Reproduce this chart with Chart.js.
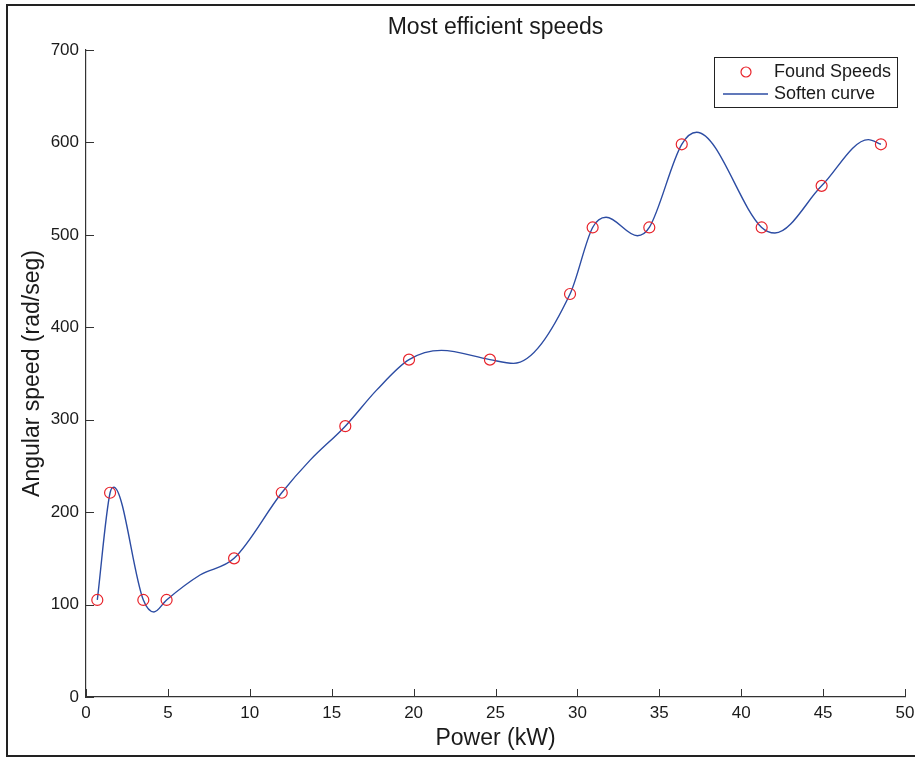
<!DOCTYPE html>
<html>
<head>
<meta charset="utf-8">
<title>Most efficient speeds</title>
<script src="https://cdn.jsdelivr.net/npm/chart.js@4.4.0/dist/chart.umd.min.js"></script>
<style>
    body { margin: 0; background: #fff; }
    canvas { display: block; }
</style>
</head>
<body>
<canvas id="grafico" width="915" height="758"></canvas>
<script>
// pontos encontrados (kW, rad/seg)
var potencias = [0.69, 1.47, 3.5, 4.92, 9.04, 11.95, 15.83, 19.72, 24.66, 29.55, 30.93, 34.39, 36.37, 41.25, 44.91, 48.53];
var velocidades = [105, 221, 105, 105, 150, 221, 293, 365, 365, 436, 508, 508, 598, 508, 553, 598];

// curva suavizada (pontos + picos/vales)
var curvaPotencias = [0.69, 1.47, 1.7, 3.5, 4.15, 4.92, 6.96, 9.04, 11.95, 13.67, 15.83, 17.74, 19.72, 21.7, 24.66, 26.1, 29.55, 30.93, 31.75, 33.66, 34.39, 36.37, 37.28, 41.25, 42.06, 44.91, 47.76, 48.53];
var curvaVelocidades = [105, 221, 227, 105, 92, 105, 132, 150, 221, 256, 293, 332, 365, 375, 365, 361, 436, 508, 519, 499, 508, 598, 611, 508, 502, 553, 603, 598];

var ticksX = [0, 5, 10, 15, 20, 25, 30, 35, 40, 45, 50];
var ticksY = [0, 100, 200, 300, 400, 500, 600, 700];

var fonte = "'Liberation Sans', Arial, Helvetica, sans-serif";
var corTexto = '#1a1a1a';
var corEixo = '#333';

function juntar(xs, ys) {
    var pontos = [];
    for (var i = 0; i < xs.length; i++) {
        pontos.push({ x: xs[i], y: ys[i] });
    }
    return pontos;
}

// titulo, moldura, ticks para dentro e legenda
const extras = {
    id: 'extras',
    afterDraw(chart) {
        const ctx = chart.ctx;
        const area = chart.chartArea;
        const sx = chart.scales.x;
        const sy = chart.scales.y;
        ctx.save();

        // moldura da figura
        ctx.strokeStyle = '#222';
        ctx.lineWidth = 2;
        ctx.strokeRect(7, 5, 920, 751);

        // ticks para dentro
        ctx.strokeStyle = corEixo;
        ctx.lineWidth = 1;
        ctx.beginPath();
        ticksX.forEach(v => {
            const px = Math.round(sx.getPixelForValue(v)) + 0.5;
            ctx.moveTo(px, area.bottom);
            ctx.lineTo(px, area.bottom - 8);
        });
        ticksY.forEach(v => {
            const py = Math.round(sy.getPixelForValue(v)) + 0.5;
            ctx.moveTo(area.left, py);
            ctx.lineTo(area.left + 8, py);
        });
        ctx.stroke();

        // titulos
        ctx.fillStyle = corTexto;
        ctx.textAlign = 'center';
        ctx.textBaseline = 'middle';
        ctx.font = '23px ' + fonte;
        const centroX = (area.left + area.right) / 2;
        ctx.fillText('Most efficient speeds', centroX, 28);
        ctx.fillText('Power (kW)', centroX, 739);
        ctx.save();
        ctx.translate(33, (area.top + area.bottom) / 2);
        ctx.rotate(-Math.PI / 2);
        ctx.fillText('Angular speed (rad/seg)', 0, 0);
        ctx.restore();

        // legenda
        ctx.fillStyle = '#fff';
        ctx.fillRect(714, 57, 183, 50);
        ctx.strokeStyle = '#222';
        ctx.lineWidth = 1;
        ctx.strokeRect(714.5, 57.5, 183, 50);

        ctx.strokeStyle = chart.data.datasets[0].borderColor;
        ctx.lineWidth = 1.2;
        ctx.beginPath();
        ctx.arc(746, 72, 5, 0, Math.PI * 2);
        ctx.stroke();

        ctx.strokeStyle = chart.data.datasets[1].borderColor;
        ctx.lineWidth = 1.4;
        ctx.beginPath();
        ctx.moveTo(723, 94);
        ctx.lineTo(768, 94);
        ctx.stroke();

        ctx.fillStyle = corTexto;
        ctx.textAlign = 'left';
        ctx.font = '18px ' + fonte;
        ctx.fillText(chart.data.datasets[0].label, 774, 72);
        ctx.fillText(chart.data.datasets[1].label, 774, 94);

        ctx.restore();
    }
};

const config = {
    type: 'scatter',
    data: {
        datasets: [
            {
                label: 'Found Speeds',
                data: juntar(potencias, velocidades),
                showLine: false,
                pointStyle: 'circle',
                pointRadius: 5.5,
                pointHoverRadius: 5.5,
                borderColor: '#e8232b',
                backgroundColor: 'rgba(0,0,0,0)',
                borderWidth: 1.2
            },
            {
                label: 'Soften curve',
                data: juntar(curvaPotencias, curvaVelocidades),
                showLine: true,
                pointRadius: 0,
                borderColor: '#2c4ca3',
                borderWidth: 1.4,
                cubicInterpolationMode: 'monotone',
                fill: false
            }
        ]
    },
    options: {
        responsive: false,
        animation: false,
        layout: {
            padding: { top: 50, left: 8, right: 10, bottom: 0 }
        },
        plugins: {
            legend: { display: false },
            tooltip: { enabled: false },
            title: { display: false }
        },
        scales: {
            x: {
                type: 'linear',
                min: 0,
                max: 50,
                afterBuildTicks: function (scale) {
                    scale.ticks = ticksX.map(v => ({ value: v }));
                },
                afterFit: function (scale) {
                    scale.height = 61;
                    scale.paddingRight = 0;
                },
                grid: { display: false, drawTicks: false },
                border: { display: true, color: corEixo, width: 1.2 },
                ticks: {
                    padding: 6,
                    color: corTexto,
                    font: { family: fonte, size: 17 },
                    maxRotation: 0
                }
            },
            y: {
                type: 'linear',
                min: 0,
                max: 700,
                afterBuildTicks: function (scale) {
                    scale.ticks = ticksY.map(v => ({ value: v }));
                },
                afterFit: function (scale) {
                    scale.width = 78;
                },
                grid: { display: false, drawTicks: false },
                border: { display: true, color: corEixo, width: 1.2 },
                ticks: {
                    padding: 7,
                    color: corTexto,
                    font: { family: fonte, size: 17 }
                }
            }
        }
    },
    plugins: [extras]
};

new Chart(document.getElementById('grafico'), config);
</script>
</body>
</html>
